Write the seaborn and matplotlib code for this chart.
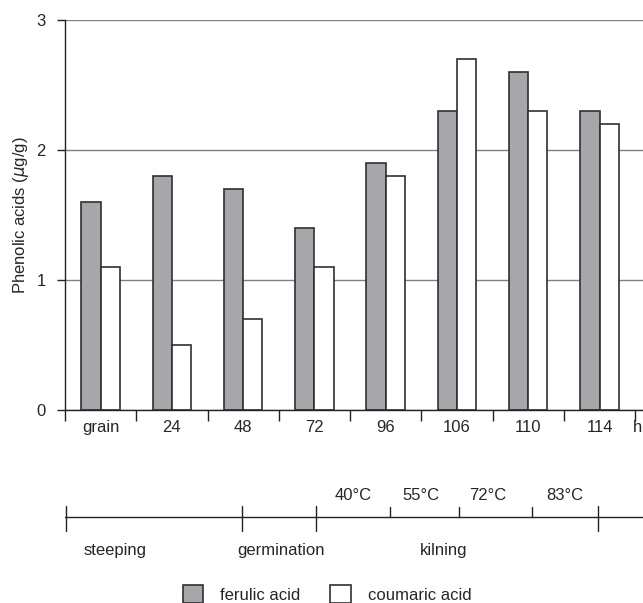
import matplotlib
matplotlib.use("Agg")
import matplotlib.pyplot as plt
import matplotlib.patches as mpatches
import seaborn as sns
import pandas as pd

categories = ["grain", "24", "48", "72", "96", "106", "110", "114"]
ferulic = [1.6, 1.8, 1.7, 1.4, 1.9, 2.3, 2.6, 2.3]
coumaric = [1.1, 0.5, 0.7, 1.1, 1.8, 2.7, 2.3, 2.2]
series = ["ferulic acid", "coumaric acid"]
temps = ["40°C", "55°C", "72°C", "83°C"]
phases = ["steeping", "germination", "kilning"]

sns.set_theme(style="white")
plt.rcParams['font.family'] = ['Liberation Sans', 'DejaVu Sans']
plt.rcParams['mathtext.fontset'] = 'dejavusans'

df = pd.DataFrame({
    "cat": categories * 2,
    "val": ferulic + coumaric,
    "acid": [series[0]] * len(categories) + [series[1]] * len(categories),
})

W, H = 643, 603
fig = plt.figure(figsize=(W / 100, H / 100), dpi=100)
ax = fig.add_axes([65 / W, (H - 410) / H, (W - 65) / W, 390 / H])

pal = {series[0]: "#a7a7ab", series[1]: "#ffffff"}
sns.barplot(data=df, x="cat", y="val", hue="acid", palette=pal, width=0.54,
            edgecolor="#303030", linewidth=1.2, saturation=1, legend=False, ax=ax)

ax.set_ylim(0, 3)
ax.set_xlim(-0.5, 7.61)
ax.set_yticks([0, 1, 2, 3])
ax.set_yticklabels(["0", "1", "2", "3"], fontsize=12)
ax.yaxis.grid(True, color="#808080", linewidth=1)
ax.set_axisbelow(True)
for s in ["top", "right"]:
    ax.spines[s].set_visible(False)
for s in ["left", "bottom"]:
    ax.spines[s].set_color("#222222")
    ax.spines[s].set_linewidth(1)
ax.tick_params(axis="y", length=6, width=1, color="#222222", direction="out", left=True, pad=8)
ax.set_xticks([i - 0.5 for i in range(9)], minor=False)
ax.set_xticklabels([])
ax.tick_params(axis="x", which="major", length=8, width=1, color="#222222", direction="out", bottom=True)
for i, c in enumerate(categories):
    ax.text(i, -0.045, c, ha="center", va="center", fontsize=12,
            transform=ax.get_xaxis_transform())
ax.text(7.595, -0.045, "h", ha="right", va="center", fontsize=12,
        transform=ax.get_xaxis_transform(), clip_on=False)
ax.set_xlabel("")
ax.set_ylabel("Phenolic acids ($\\mu$g/g)", fontsize=12, labelpad=4)

# timeline overlay in pixel coordinates
ov = fig.add_axes([0, 0, 1, 1], facecolor="none")
ov.set_xlim(0, W)
ov.set_ylim(H, 0)
ov.axis("off")
ly = 517
ov.plot([65, W], [ly, ly], color="#222222", lw=1)
for x in [66, 242, 316, 598]:
    ov.plot([x, x], [506, 531], color="#222222", lw=1)
for x in [390, 459, 532]:
    ov.plot([x, x], [507, ly], color="#222222", lw=1)
for t, x in zip(temps, [353, 421, 488, 565]):
    ov.text(x, 496, t, ha="center", va="center", fontsize=12)
for p, x in zip(phases, [115, 281, 444]):
    ov.text(x, 551, p, ha="center", va="center", fontsize=12)

handles = [mpatches.Patch(facecolor=pal[s], edgecolor="#303030", linewidth=1.2, label=s) for s in series]
fig.legend(handles=handles, loc="center", bbox_to_anchor=(327 / W, 1 - 594 / H), ncol=2,
           frameon=False, fontsize=12, handlelength=1.25, handleheight=1.25,
           columnspacing=1.8, handletextpad=1.0, borderpad=0, borderaxespad=0)

fig.savefig("out.png", dpi=100)
